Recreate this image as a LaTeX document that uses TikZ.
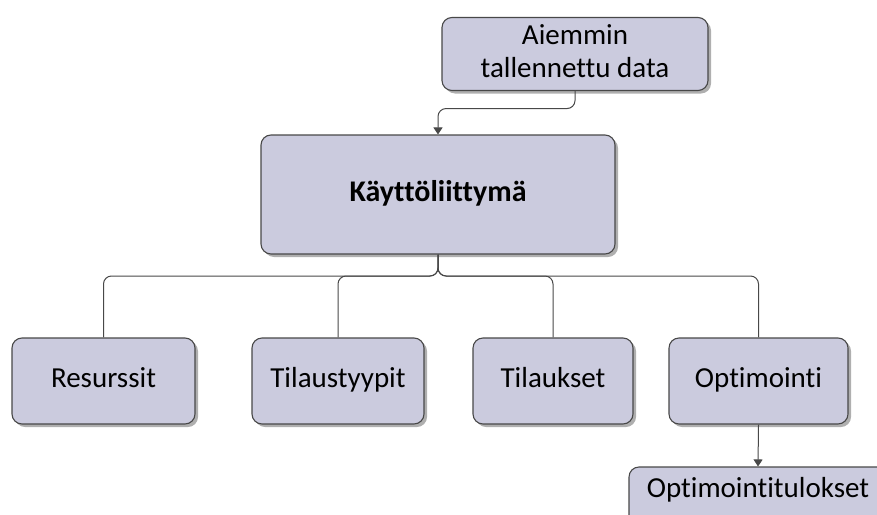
\documentclass[tikz,border=0pt]{standalone}
\usepackage{fontspec}
\setmainfont{Carlito}[Ligatures=NoCommon]
\usetikzlibrary{shadows,arrows.meta}

\definecolor{boxfill}{RGB}{203,203,222}
\definecolor{boxline}{RGB}{72,72,72}
\definecolor{shadowgray}{RGB}{175,175,175}

\tikzset{
  unit/.style={
    draw=boxline, line width=1.1pt, fill=boxfill,
    rounded corners=10pt, align=center, inner sep=0pt,
    font=\fontsize{29}{33}\selectfont,
    general shadow={fill=shadowgray, shadow xshift=3pt, shadow yshift=-3pt}
  },
  link/.style={draw=boxline, line width=1pt, rounded corners=8pt},
  feed/.style={link, -{Triangle[length=7pt,width=9pt]}}
}

\begin{document}
\begin{tikzpicture}[x=1pt,y=1pt]
  \useasboundingbox (0,0) rectangle (877,-514);

  % boxes
  \node[unit, minimum width=266pt, minimum height=73pt] (saved) at (575,-54)
    {\strut Aiemmin\\\strut tallennettu data};
  \node[unit, minimum width=354pt, minimum height=119pt] (ui) at (438,-194.5)
    {\strut\fontsize{30}{33}\selectfont\bfseries Käyttöliittymä};
  \node[unit, minimum width=183pt, minimum height=86pt] (res) at (103.5,-381)
    {\strut Resurssit};
  \node[unit, minimum width=172pt, minimum height=86pt] (types) at (338,-381)
    {\strut Tilaustyypit};
  \node[unit, minimum width=160pt, minimum height=86pt] (orders) at (553,-381)
    {\strut Tilaukset};
  \node[unit, minimum width=179pt, minimum height=86pt] (opt) at (758.5,-381)
    {\strut Optimointi};
  \node[unit, minimum width=258pt, minimum height=70pt,
        text height=10pt, text depth=20pt] (results) at (758,-502)
    {Optimointitulokset};

  % connectors
  \coordinate (split) at (438,-276);
  \draw[feed] (saved.south) -- ++(0,-17.5) -| (ui.north);
  \draw[link] (ui.south) -- (split) -| (res.north);
  \draw[link] (ui.south) -- (split) -| (types.north);
  \draw[link] (ui.south) -- (split) -| (orders.north);
  \draw[link] (ui.south) -- (split) -| (opt.north);
  \draw[feed] (opt.south) -- (results.north);
\end{tikzpicture}
\end{document}
